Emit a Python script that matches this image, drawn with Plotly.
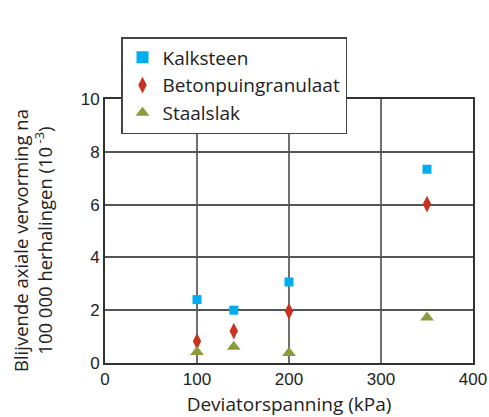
import plotly.graph_objects as go

x_kalk = [100, 140, 200, 350]
y_kalk = [2.40, 2.0, 3.07, 7.34]
x_beton = [100, 140, 200, 350]
y_beton = [0.82, 1.21, 1.96, 6.02]
x_staal = [100, 140, 200, 350]
y_staal = [0.42, 0.62, 0.38, 1.72]

x_ticks = [0, 100, 200, 300, 400]
y_ticks = [0, 2, 4, 6, 8, 10]

fig = go.Figure()
fig.add_trace(go.Scatter(x=x_kalk, y=y_kalk, mode="markers", name="Kalksteen",
                         marker=dict(symbol="square", size=9, color="#00AEEF")))
fig.add_trace(go.Scatter(x=x_beton, y=y_beton, mode="markers", name="Betonpuingranulaat",
                         marker=dict(symbol="diamond-tall", size=12, color="#C8321E")))
fig.add_trace(go.Scatter(x=x_staal, y=y_staal, mode="markers", name="Staalslak",
                         marker=dict(symbol="triangle-up", size=12, color="#8C9A3C")))

fig.update_layout(
    width=489, height=417,
    margin=dict(l=105, r=16, t=99, b=54, autoexpand=False),
    paper_bgcolor="white", plot_bgcolor="white",
    font=dict(family="Liberation Sans, Arial, sans-serif", size=16, color="#222"),
    showlegend=True,
    legend=dict(
        x=(121 - 105) / 368, y=(363 - 37) / 264, xanchor="left", yanchor="top",
        bgcolor="white", bordercolor="#444", borderwidth=1.5,
        font=dict(family="Open Sans, sans-serif", size=19, color="#222"),
        itemsizing="constant", tracegroupgap=0, itemwidth=30,
    ),
    xaxis=dict(range=[0, 400], tickvals=x_ticks, showgrid=True, gridcolor="#707070",
               gridwidth=1.5, showline=True, linecolor="#333", linewidth=2, mirror=True,
               ticks="", zeroline=False, tickfont=dict(size=17), automargin=False,
               title=dict(text="Deviatorspanning (kPa)", standoff=10,
                          font=dict(family="Open Sans, sans-serif", size=19, color="#222"))),
    yaxis=dict(range=[0, 10], tickvals=y_ticks, showgrid=True, gridcolor="#555",
               gridwidth=1.5, showline=True, linecolor="#333", linewidth=2, mirror=True,
               ticks="", zeroline=False, tickfont=dict(size=17), automargin=False),
)

fig.add_annotation(
    text="Blijvende axiale vervorming na<br>100 000 herhalingen (10<sup> -3</sup>)",
    xref="paper", yref="paper", x=(32 - 105) / 368, y=0.462, textangle=-90,
    showarrow=False, xanchor="center", yanchor="middle",
    font=dict(family="Open Sans, sans-serif", size=18.5, color="#222"),
)

fig.write_html("out.html")
